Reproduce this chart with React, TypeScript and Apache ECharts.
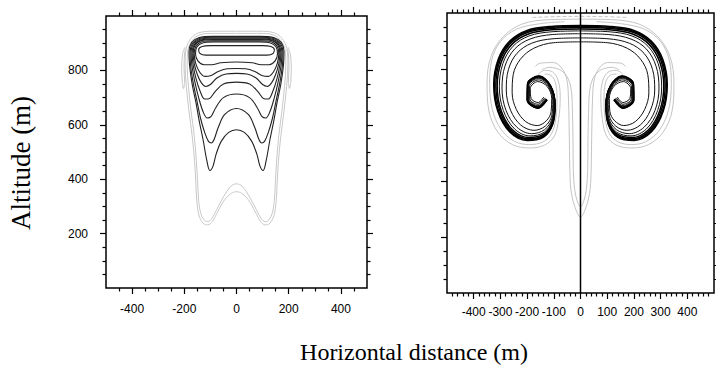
import React, { useEffect, useRef } from "react";
import * as echarts from "echarts";

// ---------- tick values ----------
const xMajorLeft = [-400, -200, 0, 200, 400];
const xMinorLeft = [-450, -350, -300, -250, -150, -100, -50, 50, 100, 150, 250, 300, 350, 450];
const yMajor = [200, 400, 600, 800];
const yMinor = [50, 100, 150, 250, 300, 350, 450, 500, 550, 650, 700, 750, 850, 900, 950];
const xMajorRight = [-400, -300, -200, -100, 0, 100, 200, 300, 400];
const xMinorRight = [-480, -460, -440, -420, -380, -360, -340, -320, -280, -260, -240, -220, -180, -160, -140, -120, -80, -60, -40, -20, 20, 40, 60, 80, 120, 140, 160, 180, 220, 240, 260, 280, 320, 340, 360, 380, 420, 440, 460, 480];

// ---------- left panel contours (x, altitude) ----------
const W1 = [[0,891],[-100,891],[-132,888],[-145,876],[-140,862],[-118,856],[-60,856],[0,856],[60,856],[118,856],[140,862],[145,876],[132,888],[100,891],[0,891]];
const W2 = [[0,905],[-90,905],[-130,901],[-152,886],[-157,860],[-148,835],[-125,821],[-95,821],[-60,828],[0,831],[60,828],[95,821],[125,821],[148,835],[157,860],[152,886],[130,901],[90,905],[0,905]];
const W3 = [[0,909],[-90,909],[-133,905],[-156,888],[-162,860],[-156,825],[-142,795],[-122,778],[-100,780],[-70,796],[-35,806],[0,807],[35,806],[70,796],[100,780],[122,778],[142,795],[156,825],[162,860],[156,888],[133,905],[90,909],[0,909]];
const W4 = [[0,913],[-90,913],[-136,909],[-160,891],[-166,862],[-162,825],[-150,785],[-135,755],[-118,741],[-100,748],[-75,772],[-40,787],[0,789],[40,787],[75,772],[100,748],[118,741],[135,755],[150,785],[162,825],[166,862],[160,891],[136,909],[90,913],[0,913]];
const W5 = [[0,916],[-90,916],[-138,911],[-163,893],[-170,864],[-166,820],[-155,770],[-140,725],[-122,695],[-105,696],[-82,722],[-50,750],[0,757],[50,750],[82,722],[105,696],[122,695],[140,725],[155,770],[166,820],[170,864],[163,893],[138,911],[90,916],[0,916]];
const W6 = [[0,919],[-90,919],[-140,914],[-166,896],[-174,866],[-171,820],[-160,760],[-145,700],[-128,648],[-112,625],[-98,630],[-80,662],[-50,700],[0,713],[50,700],[80,662],[98,630],[112,625],[128,648],[145,700],[160,760],[171,820],[174,866],[166,896],[140,914],[90,919],[0,919]];
const W7 = [[0,922],[-90,922],[-143,917],[-169,899],[-178,868],[-176,820],[-166,755],[-152,690],[-138,625],[-122,572],[-108,540],[-97,533],[-86,546],[-70,590],[-45,638],[0,660],[45,638],[70,590],[86,546],[97,533],[108,540],[122,572],[138,625],[152,690],[166,755],[176,820],[178,868],[169,899],[143,917],[90,922],[0,922]];
const W8 = [[0,925],[-90,925],[-145,920],[-172,902],[-182,870],[-180,820],[-170,750],[-155,680],[-142,610],[-128,545],[-114,470],[-102,432],[-90,448],[-78,492],[-58,540],[-30,572],[0,582],[30,572],[58,540],[78,492],[90,448],[102,432],[114,470],[128,545],[142,610],[155,680],[170,750],[180,820],[182,870],[172,902],[145,920],[90,925],[0,925]];
const G1 = [[0,944],[-90,944],[-145,938],[-174,918],[-193,880],[-197,820],[-192,740],[-182,650],[-170,560],[-161,470],[-156,390],[-152,320],[-144,268],[-128,238],[-110,232],[-92,245],[-72,280],[-45,325],[-20,348],[0,354],[20,348],[45,325],[72,280],[92,245],[110,232],[128,238],[144,268],[152,320],[156,390],[161,470],[170,560],[182,650],[192,740],[197,820],[193,880],[174,918],[145,938],[90,944],[0,944]];
const G2 = [[0,936],[-90,936],[-140,931],[-168,912],[-186,876],[-189,820],[-184,740],[-174,650],[-162,560],[-154,470],[-149,390],[-145,322],[-137,275],[-124,250],[-110,244],[-95,255],[-76,288],[-50,335],[-22,374],[0,383],[22,374],[50,335],[76,288],[95,255],[110,244],[124,250],[137,275],[145,322],[149,390],[154,470],[162,560],[174,650],[184,740],[189,820],[186,876],[168,912],[140,931],[90,936],[0,936]];
const EAR_L = [[-198,885],[-206,862],[-210,812],[-208,760],[-203,733],[-199,760],[-201,812],[-199,860],[-196,880]];
const EAR_R = [[198,885],[206,862],[210,812],[208,760],[203,733],[199,760],[201,812],[199,860],[196,880]];

// ---------- right panel contours ----------
const C0L = [[0,955],[-110,952],[-200,938],[-265,900],[-308,835],[-325,745],[-310,650],[-265,575],[-200,545],[-140,556],[-105,600],[-95,670],[-112,740],[-155,775],[-198,748],[-200,690],[-160,660],[-125,690]];
const C1L = [[0,952],[-110,949],[-199,935],[-263,897],[-305,832],[-322,744],[-307,650],[-262,577],[-198,548],[-139,559],[-105,602],[-96,671],[-113,740],[-155,774],[-198,747],[-199,690],[-160,661],[-126,690]];
const C2L = [[0,948],[-109,945],[-197,931],[-261,893],[-302,829],[-317,742],[-302,651],[-258,579],[-196,551],[-139,562],[-106,605],[-96,673],[-113,740],[-156,773],[-197,746],[-198,691],[-160,662],[-126,691]];
const C3L = [[0,943],[-108,940],[-195,925],[-257,888],[-297,825],[-312,739],[-297,651],[-254,582],[-193,555],[-138,567],[-106,609],[-97,675],[-114,740],[-156,771],[-196,745],[-197,691],[-160,664],[-127,692]];
const C4L = [[0,936],[-107,933],[-193,918],[-253,881],[-291,819],[-304,736],[-289,652],[-247,586],[-189,561],[-136,574],[-107,614],[-99,678],[-116,739],[-157,769],[-195,743],[-196,692],[-159,666],[-129,693]];
const C5L = [[0,926],[-106,923],[-189,907],[-247,871],[-283,810],[-294,732],[-279,652],[-238,592],[-183,569],[-135,583],[-107,622],[-101,681],[-118,739],[-157,766],[-194,740],[-193,692],[-159,669],[-131,695]];
const C6L = [[0,911],[-103,908],[-183,892],[-238,856],[-270,798],[-278,725],[-262,653],[-224,600],[-174,581],[-132,596],[-108,633],[-104,687],[-121,739],[-158,761],[-191,736],[-190,693],[-159,674],[-134,697]];
const C7L = [[0,897],[-100,894],[-175,874],[-225,835],[-252,780],[-256,715],[-240,655],[-205,612],[-162,598],[-128,615],[-110,648],[-108,695],[-125,738],[-160,755],[-188,730],[-185,695],[-158,680],[-138,700]];
const C0R = [[0,955],[110,952],[200,938],[265,900],[308,835],[325,745],[310,650],[265,575],[200,545],[140,556],[105,600],[95,670],[112,740],[155,775],[198,748],[200,690],[160,660],[125,690]];
const C1R = [[0,952],[110,949],[199,935],[263,897],[305,832],[322,744],[307,650],[262,577],[198,548],[139,559],[105,602],[96,671],[113,740],[155,774],[198,747],[199,690],[160,661],[126,690]];
const C2R = [[0,948],[109,945],[197,931],[261,893],[302,829],[317,742],[302,651],[258,579],[196,551],[139,562],[106,605],[96,673],[113,740],[156,773],[197,746],[198,691],[160,662],[126,691]];
const C3R = [[0,943],[108,940],[195,925],[257,888],[297,825],[312,739],[297,651],[254,582],[193,555],[138,567],[106,609],[97,675],[114,740],[156,771],[196,745],[197,691],[160,664],[127,692]];
const C4R = [[0,936],[107,933],[193,918],[253,881],[291,819],[304,736],[289,652],[247,586],[189,561],[136,574],[107,614],[99,678],[116,739],[157,769],[195,743],[196,692],[159,666],[129,693]];
const C5R = [[0,926],[106,923],[189,907],[247,871],[283,810],[294,732],[279,652],[238,592],[183,569],[135,583],[107,622],[101,681],[118,739],[157,766],[194,740],[193,692],[159,669],[131,695]];
const C6R = [[0,911],[103,908],[183,892],[238,856],[270,798],[278,725],[262,653],[224,600],[174,581],[132,596],[108,633],[104,687],[121,739],[158,761],[191,736],[190,693],[159,674],[134,697]];
const C7R = [[0,897],[100,894],[175,874],[225,835],[252,780],[256,715],[240,655],[205,612],[162,598],[128,615],[110,648],[108,695],[125,738],[160,755],[188,730],[185,695],[158,680],[138,700]];
const GR1 = [[-169,809],[-151,821],[-101,823],[-70,803],[-51,761],[-45,690],[-42,560],[-40,450],[-36,370],[-22,310],[0,271],[22,310],[36,370],[40,450],[42,560],[45,690],[51,761],[70,803],[101,823],[151,821],[169,809]];
const GR2 = [[-145,797],[-118,806],[-90,802],[-66,790],[-46,765],[-34,720],[-30,640],[-28,540],[-27,440],[-22,370],[-12,328],[0,308],[12,328],[22,370],[27,440],[28,540],[30,640],[34,720],[46,765],[66,790],[90,802],[118,806],[145,797]];
const GR3L = [[0,978],[-120,976],[-220,960],[-290,915],[-335,845],[-350,750],[-343,650],[-310,575],[-255,530],[-190,518],[-135,528],[-98,560],[-82,620],[-76,700],[-84,760],[-105,790],[-135,795],[-160,780]];
const GR3R = [[0,978],[120,976],[220,960],[290,915],[335,845],[350,750],[343,650],[310,575],[255,530],[190,518],[135,528],[98,560],[82,620],[76,700],[84,760],[105,790],[135,795],[160,780]];
const GR4L = [[-60,969],[-150,962],[-240,942],[-300,898],[-333,830],[-340,745],[-330,655],[-298,585],[-248,542],[-190,530],[-140,540],[-108,570],[-92,625],[-88,700],[-95,755],[-112,778],[-135,782]];
const GR4R = [[60,969],[150,962],[240,942],[300,898],[333,830],[340,745],[330,655],[298,585],[248,542],[190,530],[140,540],[108,570],[92,625],[88,700],[95,755],[112,778],[135,782]];
const TOP_DASH = [[-180,984],[-90,987],[0,988],[90,987],[180,984]];
const CENTER_LINE = [[0,0],[0,1000]];

const leftBlack = [W1, W2, W3, W4, W5, W6, W7, W8];
const leftGray = [G1, G2, EAR_L, EAR_R];
const rightBlackOuter = [C0L, C1L, C2L, C3L, C0R, C1R, C2R, C3R];
const rightBlackInner = [C4L, C5L, C6L, C7L, C4R, C5R, C6R, C7R];
const rightGray = [GR1, GR2, GR3L, GR3R, GR4L, GR4R];

const SANS = "'Liberation Sans', Arial, Helvetica, sans-serif";
const SERIF = "'Liberation Serif', 'Times New Roman', serif";

function xAx(g: number, pos: string, vals: number[], len: number, label: boolean, margin = 0) {
  return {
    type: "value", gridIndex: g, min: -500, max: 500, position: pos,
    axisLine: { show: false, onZero: false }, splitLine: { show: false },
    axisTick: { show: true, inside: false, length: len, customValues: vals, lineStyle: { color: "#000", width: 1.2 } },
    axisLabel: label
      ? { show: true, customValues: vals, margin, color: "#000", fontSize: 12, fontFamily: SANS }
      : { show: false },
  };
}
function yAx(g: number, pos: string, vals: number[], len: number, label: boolean, margin = 0) {
  return {
    type: "value", gridIndex: g, min: 0, max: 1000, position: pos,
    axisLine: { show: false, onZero: false }, splitLine: { show: false },
    axisTick: { show: true, inside: false, length: len, customValues: vals, lineStyle: { color: "#000", width: 1.2 } },
    axisLabel: label
      ? { show: true, customValues: vals, margin, color: "#000", fontSize: 12, fontFamily: SANS }
      : { show: false },
  };
}

function lineSeries(data: number[][], xi: number, color: string, width: number, z: number, type: string = "solid") {
  return {
    type: "line", data, xAxisIndex: xi, yAxisIndex: xi, smooth: 0.35, symbol: "none",
    lineStyle: { color, width, type }, z, silent: true,
  };
}

export default function App() {
  const ref = useRef<HTMLDivElement>(null);
  useEffect(() => {
    if (!ref.current) return;
    const chart = echarts.init(ref.current, undefined, { renderer: "svg" });
    const series: any[] = [];
    leftGray.forEach((d) => series.push(lineSeries(d, 0, "#c8c8c8", 1, 2)));
    leftBlack.forEach((d) => series.push(lineSeries(d, 0, "#222", 1.1, 3)));
    rightGray.forEach((d) => series.push(lineSeries(d, 4, "#c4c4c4", 1, 2)));
    series.push(lineSeries(TOP_DASH, 4, "#c4c4c4", 1, 2, "dashed"));
    rightBlackOuter.forEach((d) => series.push(lineSeries(d, 4, "#000", 1.5, 3)));
    rightBlackInner.forEach((d) => series.push(lineSeries(d, 4, "#111", 1, 3)));
    series.push({ type: "line", data: CENTER_LINE, xAxisIndex: 4, yAxisIndex: 4, symbol: "none", lineStyle: { color: "#000", width: 1.5 }, z: 5, silent: true });

    chart.setOption({
      animation: false,
      grid: [
        { left: 106, top: 16, width: 261, height: 272, show: true, borderColor: "#000", borderWidth: 1.5, backgroundColor: "transparent" },
        { left: 447, top: 13, width: 267, height: 280, show: true, borderColor: "#000", borderWidth: 1.5, backgroundColor: "transparent" },
      ],
      xAxis: [
        xAx(0, "bottom", xMajorLeft, 6, true, 15),
        xAx(0, "top", xMajorLeft, 6, false),
        xAx(0, "bottom", xMinorLeft, 3.5, false),
        xAx(0, "top", xMinorLeft, 3.5, false),
        xAx(1, "bottom", xMajorRight, 6, true, 13),
        xAx(1, "top", xMajorRight, 6, false),
        xAx(1, "bottom", xMinorRight, 3.5, false),
        xAx(1, "top", xMinorRight, 3.5, false),
      ],
      yAxis: [
        yAx(0, "left", yMajor, 6, true, 18),
        yAx(0, "right", yMajor, 6, false),
        yAx(0, "left", yMinor, 3.5, false),
        yAx(0, "right", yMinor, 3.5, false),
        yAx(1, "left", yMajor, 6, false),
        yAx(1, "right", yMajor, 6, false),
        yAx(1, "left", yMinor, 3.5, false),
        yAx(1, "right", yMinor, 3.5, false),
      ],
      series,
      graphic: [
        {
          type: "text", x: 21, y: 163, rotation: Math.PI / 2,
          style: { text: "Altitude (m)", font: `27px ${SERIF}`, fill: "#000", align: "center", verticalAlign: "middle" },
        },
        {
          type: "text", x: 414, y: 352,
          style: { text: "Horizontal distance (m)", font: `24px ${SERIF}`, fill: "#000", align: "center", verticalAlign: "middle" },
        },
      ],
    });
    return () => chart.dispose();
  }, []);
  return <div ref={ref} style={{ position: "fixed", left: 0, top: 0, width: 716, height: 373, background: "#fff" }} />;
}
